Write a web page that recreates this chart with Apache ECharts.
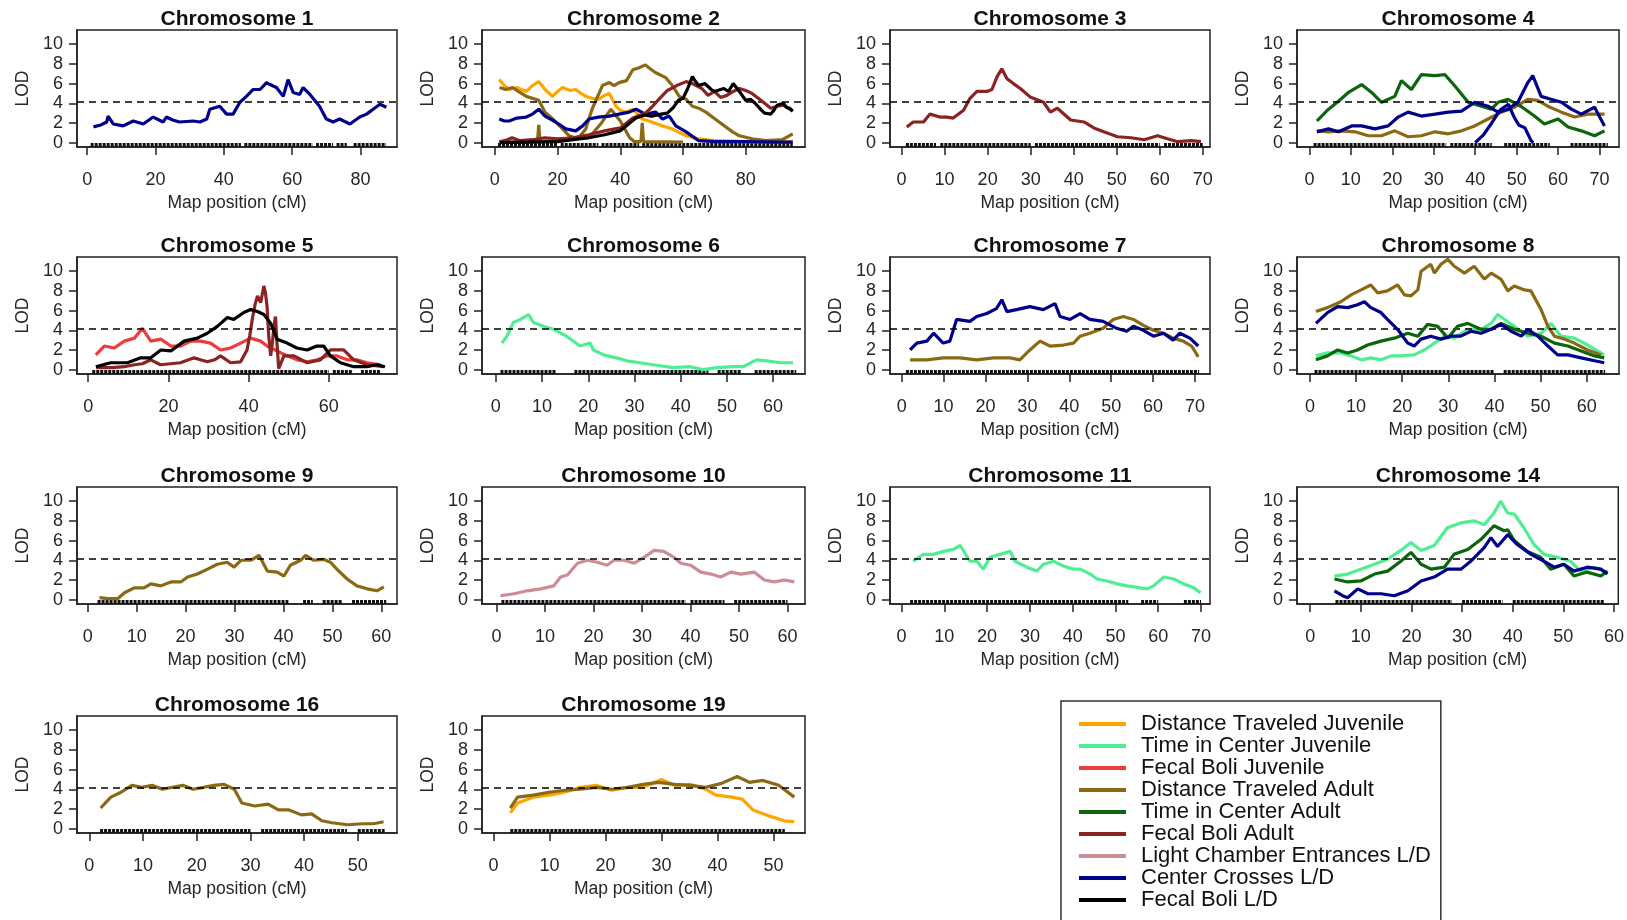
<!DOCTYPE html>
<html><head><meta charset="utf-8">
<script src="https://cdn.jsdelivr.net/npm/echarts@6/dist/echarts.min.js"></script>
<style>html,body{margin:0;padding:0;background:#fff}#c{width:1627px;height:920px}</style>
</head><body><div id="c"></div>
<script>
// ---------- categories / legend ----------
const TRAITS = ['Distance Traveled Juvenile','Time in Center Juvenile','Fecal Boli Juvenile','Distance Traveled Adult','Time in Center Adult','Fecal Boli Adult','Light Chamber Entrances L/D','Center Crosses L/D','Fecal Boli L/D'];
const TRAIT_COLORS = ['#FFA500','#4EEE94','#EE3B3B','#8B6914','#0B650B','#8B2323','#CD8C95','#00008B','#000000'];
const CHROMOSOMES = ['1','2','3','4','5','6','7','8','9','10','11','14','16','19'];
const X_TICKS = [[0,20,40,60,80],[0,20,40,60,80],[0,10,20,30,40,50,60,70],[0,10,20,30,40,50,60,70],[0,20,40,60],[0,10,20,30,40,50,60],[0,10,20,30,40,50,60,70],[0,10,20,30,40,50,60],[0,10,20,30,40,50,60],[0,10,20,30,40,50,60],[0,10,20,30,40,50,60,70],[0,10,20,30,40,50,60],[0,10,20,30,40,50],[0,10,20,30,40,50]];
const X_LIMITS = [[-3,90.7],[-4.1,98.9],[-2.7,71.7],[-3,74.7],[-2.8,77],[-3,66.9],[-2.8,73.6],[-2.8,67],[-2.2,63.2],[-3,63.6],[-2.7,72.1],[-2.6,60.85],[-2.3,57.3],[-2.05,55.6]];
const Y_TICKS = [0,2,4,6,8,10];
const Y_LIMITS = [-0.44, 11.44];
const THRESHOLD = 4.2;

// ---------- LOD curves [cM, LOD] ----------
const chr1_CC = [[1.8,1.6],[4,1.8],[5.7,2.1],[6.1,2.7],[7.6,1.9],[10.5,1.7],[13.5,2.2],[16.4,1.9],[19.3,2.6],[22.2,2.1],[23.2,2.6],[25,2.3],[27,2.1],[31,2.2],[33,2.1],[35,2.4],[35.9,3.4],[38.8,3.7],[40.8,2.9],[42.7,2.9],[44.7,4.1],[46.6,4.7],[48.6,5.4],[50.6,5.4],[52.5,6.1],[53.5,5.9],[55.4,5.6],[57.4,4.7],[58.8,6.4],[60.3,5.1],[62.2,4.9],[63.2,5.6],[65.2,4.9],[68,3.7],[70,2.4],[72,2.1],[73.9,2.4],[76.9,1.9],[79.8,2.6],[81.8,2.9],[83.7,3.4],[85.7,3.9],[87.6,3.6]];

const chr2_DTJ = [[1.4,6.4],[3,5.8],[4.6,5.4],[7,5.6],[10,5.2],[12,5.8],[14,6.2],[16,5.4],[18.4,4.7],[20,5.2],[21.6,5.6],[24,5.3],[25.8,5.4],[27.5,5],[29,4.7],[31,4.5],[33,4.4],[35,4.8],[36.5,5],[38.6,3.7],[40,3.3],[41.8,3.1],[44,3.4],[45.5,2.9],[47,2.4],[50,2.1],[53.5,1.7],[56.6,1.4],[59,1],[61,0.7],[65,0.4],[70,0.2],[80,0.1],[90,0.1],[95,0.1]];
const chr2_DTA = [[1.5,5.6],[3.5,5.4],[5.6,5.6],[8,5.1],[10,4.7],[14,4.3],[16,3.1],[18.5,2.4],[21.6,1.4],[23.7,0.7],[25.5,0.5],[27,0.6],[29,1.4],[31,3.4],[34.3,5.8],[36.5,6.1],[38,5.8],[39.6,6.1],[42,6.3],[44,7.4],[46,7.6],[48,7.9],[49.5,7.5],[51.3,7.1],[54.5,6.6],[56.6,5.8],[58.8,4.7],[61,4.4],[63,3.7],[65,3.5],[67.3,3.1],[71.5,2.1],[75.8,1.1],[78,0.7],[82,0.4],[86.4,0.2],[91.7,0.3],[95,0.9]];
const chr2_DTA_b = [[1.5,0.05],[13.6,0.1],[14,1.8],[14.4,0.1],[22,0.3],[30,0.5],[34,2],[37,3.4],[40,2.2],[43,0.5],[44.5,0.1],[46.6,0.1],[47,2],[47.4,0.1],[60,0.05]];
const chr2_FBA = [[1.5,0.1],[4,0.3],[5.5,0.5],[8,0.2],[12,0.3],[16,0.5],[20,0.4],[25,0.5],[30,0.8],[35,1.2],[40,1.5],[44,2.5],[48,3],[50,3.6],[52,4.3],[55,5.3],[58,5.8],[61,6.2],[63,6],[66,5.5],[68,4.8],[70,5.2],[72,4.6],[74,4.8],[76,5.2],[78,5.5],[80,5.3],[82,5],[84,4.5],[86,4],[88,3.5],[90,3.7],[92,3.8],[94,3.4],[95,3.2]];
const chr2_CC = [[1.4,2.4],[3,2.2],[4.6,2.2],[7,2.5],[10,2.6],[12,2.9],[14,3.4],[16,2.7],[19.4,2.1],[22.6,1.4],[25.8,1.2],[28,1.7],[30,2.4],[33,2.6],[36.5,2.7],[39.6,2.9],[42.8,3.1],[45,3.4],[48,2.9],[51.3,3.1],[53.5,2.4],[55.6,2.7],[57.7,1.7],[61,1.1],[65,0.2],[70,0.1],[80,0.1],[90,0.05],[95,0.05]];
const chr2_FBLD = [[1.5,0],[10,0.05],[20,0.1],[25,0.3],[30,0.5],[35,0.8],[40,1.2],[43,2],[45,2.5],[48,2.8],[50,2.7],[53,2.9],[55,3],[57,3.6],[58.5,4.3],[60,4.5],[61.5,5.5],[63,6.7],[64,6.2],[65,5.8],[67,6],[69,5.4],[70,5.2],[72,5.4],[73,5.5],[74.5,5.2],[76,6],[77,5.6],[78,5.2],[80,4.3],[81.5,4.4],[83,4],[85,3.3],[86,3],[88,2.9],[89,3.3],[90,3.8],[92,4],[93,3.6],[94,3.5],[95,3.2]];

const chr3_FBA = [[1.2,1.6],[2.7,2.1],[5.1,2.1],[6.6,2.9],[8.9,2.6],[10.5,2.6],[12,2.5],[14.4,3.3],[15.9,4.5],[17.5,5.2],[19.8,5.2],[21,5.4],[22.2,6.7],[23.3,7.5],[24.5,6.5],[26,6],[27.6,5.5],[30,4.6],[33,4.1],[34.6,3.1],[36.2,3.5],[39.3,2.3],[42.4,2.1],[44.7,1.5],[47,1.1],[50.2,0.6],[53.3,0.5],[56.4,0.3],[59.5,0.7],[61.8,0.4],[64.2,0.1],[67.3,0.2],[69.6,0.1]];

const chr4_TCA = [[1.8,2.2],[4.6,3.4],[7,4.2],[9.4,5.1],[12.6,5.9],[15,5.1],[17.4,4.1],[20.6,4.7],[22.2,6.3],[24.6,5.4],[27,6.9],[30.3,6.8],[32.7,6.9],[35,5.8],[38.3,4.1],[41.5,3.7],[43.9,3.4],[45.5,4.1],[47.9,4.4],[51,3.7],[54.3,2.7],[56.7,1.9],[60,2.4],[62.4,1.6],[65.6,1.2],[68.8,0.7],[71.2,1.2]];
const chr4_CC = [[1.8,1.1],[4.6,1.4],[7,1.1],[10.2,1.7],[12.6,1.7],[15.8,1.4],[19,1.7],[21.4,2.6],[23.8,3.1],[27,2.7],[30.3,2.9],[33.5,3.1],[36.7,3.2],[39.9,4.1],[43.1,3.7],[45.5,3.1],[47.9,3.4],[50.3,4.1],[52.7,6.1],[53.9,6.8],[55.9,4.7],[58.3,4.4],[60.8,4.1],[63.2,3.4],[65.6,2.9],[68.8,3.6],[71.2,1.7]];
const chr4_CC_b = [[40,0],[42,0.8],[44,2],[46,3.3],[48,3.9],[49.5,2.5],[50.5,1.8],[52,1.5],[53.5,0.2],[54,0]];
const chr4_DTA = [[1.8,1.2],[4.6,1.1],[7.8,1.2],[11,1.1],[14.2,0.7],[17.4,0.7],[20.6,1.2],[23.8,0.6],[27,0.7],[30.3,1.1],[33.5,0.9],[36.7,1.2],[39.9,1.7],[43.1,2.4],[46.3,3.1],[49.5,3.6],[52.7,4.4],[55.1,4.3],[57.5,3.7],[60.8,3.1],[64,2.6],[67.2,2.9],[71.2,2.9]];

const chr5_FBJ = [[1.9,1.5],[4,2.4],[6.5,2.2],[9,2.9],[11.5,3.2],[13.5,4.2],[15.6,2.9],[18.1,3.1],[20.6,2.4],[23,2.4],[25.6,2.9],[28,2.9],[30.5,2.7],[33,2],[35.5,2.2],[38,2.7],[40.5,3.2],[43,2.9],[44.6,2.4],[47.1,1.9],[49.6,1.4],[52.1,1],[54.6,0.8],[57.1,1],[59.6,1.4],[62,1.4],[64.6,1],[67,1],[69.5,0.7],[72.9,0.5]];
const chr5_FBA = [[2,0.2],[6,0.2],[9,0.3],[11.5,0.5],[13.5,0.6],[15.6,1],[18,0.5],[20.5,0.6],[23,0.7],[26.4,1.2],[28,1],[29.7,0.8],[31.5,1],[33,1.4],[35.5,0.7],[38,0.8],[39.6,2],[40.3,3.5],[40.9,5.1],[41.6,6.6],[42.2,7.5],[43,6.8],[43.8,8.5],[44.2,7.8],[44.6,6.4],[45,3.5],[45.5,1.4],[46,3],[46.3,4.4],[46.7,5.4],[47.1,2.5],[47.5,0.1],[48.8,1.4],[51.3,1.4],[54.6,0.7],[57.9,1],[60.4,2],[63.7,2],[66.2,1],[69.5,0.5],[73.7,0.3]];
const chr5_FBLD = [[1.9,0.3],[5.6,0.7],[9.8,0.7],[13.1,1.2],[15.6,1.2],[18.1,2],[20.6,1.9],[23.9,2.9],[27.2,3.2],[29.7,3.7],[32.2,4.4],[34.7,5.3],[36.3,5.1],[38.8,5.8],[40.5,6.1],[42.2,5.9],[43.8,5.6],[45.5,4.7],[47.1,3.1],[49.6,2.7],[52,2.2],[54.6,2],[57,2.4],[58.7,2.4],[60.4,1.4],[62.9,0.7],[66.2,0.3],[69.5,0.3],[72,0.5],[74,0.3]];

const chr6_TCJ = [[1.3,2.7],[2.4,3.4],[3.8,4.8],[5.3,5.1],[7.1,5.6],[8.1,4.8],[10.3,4.4],[12.5,4.1],[15.3,3.4],[18.2,2.4],[20.4,2.7],[21.1,2],[23.3,1.5],[26.1,1.2],[28.3,0.9],[31.2,0.7],[34,0.5],[38.4,0.2],[42,0.3],[44.9,0],[47.8,0.2],[51.4,0.3],[53.5,0.3],[56.4,1],[58.6,0.9],[61.5,0.7],[64.3,0.7]];

const chr7_CC = [[2,2],[3.6,2.7],[6,2.9],[7.6,3.7],[9.9,2.7],[11.5,2.9],[13.1,5.1],[16.3,4.9],[17.9,5.4],[20.3,5.7],[22.6,6.2],[23.9,7.1],[25.1,5.9],[27.4,6.1],[30.6,6.4],[33.8,6.1],[36.6,6.7],[37.8,5.4],[40.2,5.1],[42.6,5.7],[44.9,5.1],[48.1,4.9],[51.3,4.2],[53.7,3.9],[55.3,4.4],[57.7,4],[60.1,3.4],[62.5,3.7],[64.8,3],[66.4,3.7],[68.8,3.2],[70.8,2.4]];
const chr7_DTA = [[2,1],[6,1],[9.9,1.2],[13.9,1.2],[17.9,1],[21.9,1.2],[25.9,1.2],[28.2,1],[30.6,2],[33,2.9],[35.4,2.4],[38.6,2.5],[41,2.7],[42.6,3.4],[44.9,3.7],[48.1,4.2],[50.5,5.1],[52.9,5.4],[55.3,5.1],[57.7,4.5],[60.1,4],[62.5,3.7],[64.8,3.2],[67.2,2.9],[69.2,2.4],[70.8,1.3]];

const chr8_DTA = [[1.3,5.9],[3.8,6.3],[6.7,6.9],[8.9,7.6],[11.1,8.1],[13.2,8.6],[14.7,7.8],[16.8,8],[19,8.6],[20.5,7.6],[21.9,7.5],[23.4,8.1],[24.1,10],[26.2,10.7],[27,9.8],[28.4,10.7],[29.9,11.2],[31.3,10.5],[33.5,9.8],[35.6,10.5],[37.8,9.2],[39.3,9.8],[41.4,9.2],[42.9,8],[44.3,8.5],[46.5,8.1],[47.9,8],[50.1,6.1],[51.6,4.4],[53,3.4],[55.2,3.1],[57.3,2.7],[60.2,2],[63.1,1.5]];
const chr8_CC = [[1.3,4.7],[3.8,5.8],[6,6.4],[8.2,6.3],[10.3,6.6],[11.8,6.9],[13.2,6.3],[15.4,5.8],[16.8,5.1],[19,4.1],[21.2,2.7],[22.6,2.4],[24.1,3.1],[26.2,3.4],[28.4,3.1],[30.6,3.4],[32.7,3.4],[34.9,3.9],[37.1,3.7],[39.3,4.1],[41.4,4.6],[43.6,3.9],[45.8,3.4],[47.2,4.1],[49.4,3.4],[51.6,2.4],[53.7,1.5],[55.9,1.5],[58.8,1.2],[61.7,0.9],[63.8,0.7]];
const chr8_TCA = [[1.3,1],[3.8,1.4],[6,2],[8.2,1.7],[10.3,2],[12.5,2.5],[15.4,2.9],[18.3,3.2],[21.2,3.7],[23.4,3.4],[25.5,4.6],[27.7,4.4],[29.9,3.2],[32,4.4],[34.2,4.7],[37.1,4.1],[39.3,4.1],[41.4,4.7],[44.3,4.1],[47.2,3.7],[50.1,3.4],[53,2.7],[55.9,2.4],[58.8,1.9],[61.7,1.4],[63.8,1.2]];
const chr8_TCJ = [[1.3,1.4],[3.8,1.7],[6.7,1.7],[8.9,1.4],[11.1,1],[13.2,1.2],[15.4,1],[17.6,1.4],[19.7,1.4],[22.6,1.5],[24.8,2],[27,2.7],[29.2,3.4],[31.3,3.2],[34.2,4.1],[37.1,4.1],[39.3,4.7],[40.7,5.6],[42.2,5.1],[44.3,4.4],[47.2,3.4],[50.1,3.7],[52.3,4.7],[54.4,3.4],[57.3,3.2],[60.2,2.5],[63.8,1.5]];

const chr9_DTA = [[2.4,0.2],[4.1,0.1],[6.1,0.1],[7.5,0.7],[9.5,1.2],[11.5,1.2],[12.9,1.6],[14.9,1.4],[17,1.8],[19,1.8],[20.4,2.3],[22.4,2.6],[24.5,3.1],[26.5,3.6],[28.5,3.8],[29.9,3.3],[31.3,4],[33.3,4],[35,4.5],[36.7,2.9],[38.7,2.8],[40.1,2.4],[41.4,3.5],[43.5,4],[44.5,4.5],[46.2,4],[48.2,4.1],[49.6,3.8],[50.9,3.1],[53,2.1],[55,1.4],[57.1,1.1],[59.1,0.9],[60.5,1.3]];

const chr10_LCE = [[0.8,0.4],[3.6,0.6],[6.3,0.9],[9.1,1.1],[11.8,1.4],[13.2,2.3],[14.6,2.5],[16.7,3.7],[18.7,4],[20.8,3.8],[22.8,3.5],[24.2,4],[26.3,4],[28.4,3.7],[30.4,4.3],[32.5,5],[34.5,4.9],[36.6,4.3],[38,3.7],[40,3.5],[42.1,2.8],[44.2,2.6],[46.2,2.3],[48.3,2.8],[50.4,2.6],[53.1,2.8],[55.2,2],[57.3,1.8],[59.3,2],[61.4,1.8]];

const chr11_TCJ = [[2.7,3.9],[5.1,4.6],[7.4,4.6],[9.8,4.9],[12.1,5.1],[13.7,5.5],[16,3.9],[17.6,3.9],[19.1,3.1],[20.7,4.3],[23,4.6],[25.4,4.9],[26.5,3.9],[29.3,3.3],[31.6,2.9],[33.2,3.6],[35.5,3.9],[37.9,3.4],[40.2,3.1],[41.8,3.1],[44.1,2.6],[45.7,2.1],[48,1.9],[50.4,1.6],[52.7,1.4],[55.8,1.2],[57.4,1.1],[58.9,1.4],[61.3,2.3],[63.6,2.1],[66,1.6],[68.3,1.2],[69.9,0.7]];

const chr14_TCJ = [[4.8,2.4],[7.4,2.6],[10,3.1],[12.7,3.6],[15.3,4.1],[17.9,5],[19.9,5.8],[21.9,5],[24.5,5.5],[27.1,7.3],[29.8,7.8],[32.4,8],[34.4,7.6],[36.3,8.8],[37.6,10],[39,8.8],[40.3,8.7],[42.2,7.3],[44.2,5.6],[46.2,4.6],[48.8,4.3],[51.4,3.9],[53.4,2.9],[56,3.3],[58.7,2.8]];
const chr14_TCA = [[4.8,2.1],[7.4,1.8],[10,1.9],[12.7,2.6],[15.3,2.9],[17.9,3.9],[19.9,4.8],[21.9,3.6],[23.9,3.1],[26.5,3.3],[28.4,4.6],[31.1,5.1],[33.7,6.1],[36.3,7.5],[38.3,7],[39,7.1],[40.3,6],[42.9,4.9],[45.5,4.3],[47.5,3.1],[50.1,3.6],[52.1,2.4],[54.7,2.8],[57.4,2.4],[58.7,2.9]];
const chr14_CC = [[4.8,0.9],[6.4,0.4],[7.4,0.2],[9.4,1.1],[11.4,0.6],[14,0.6],[16.6,0.4],[19.3,0.9],[21.9,1.9],[24.5,2.3],[27.1,3.1],[29.8,3.1],[31.7,3.9],[34.4,5.3],[35.7,6.3],[37,5.4],[39,6.6],[40.9,5.6],[43.6,4.6],[45.5,4.1],[48.2,3.3],[50.1,3.6],[52.1,2.9],[54.7,3.3],[57.4,3.1],[58.7,2.6]];

const chr16_DTA = [[2.1,2.1],[4,3.2],[5.9,3.7],[7.9,4.4],[9.8,4.2],[11.7,4.4],[13.6,4],[15.5,4.2],[17.4,4.4],[19.3,4],[21.3,4.2],[23.2,4.4],[25.1,4.5],[27,4],[28.4,2.6],[30.8,2.3],[33.3,2.5],[35.2,1.9],[37.2,1.9],[39.5,1.4],[41.4,1.5],[43.3,0.8],[45.2,0.6],[48.1,0.4],[51,0.5],[52.9,0.5],[54.8,0.7]];

const chr19_DTA = [[3,2.1],[4.3,3.2],[7.1,3.4],[9.9,3.7],[12.7,3.9],[15.5,4],[18.3,4.2],[21.1,4],[23.9,4.2],[26.7,4.5],[29.5,4.7],[32.3,4.5],[35.1,4.4],[37.9,4.2],[40.7,4.6],[43.5,5.3],[45.7,4.7],[48.1,4.9],[50.9,4.4],[53.7,3.2]];
const chr19_DTJ = [[3,1.6],[4.3,2.6],[7.1,3.2],[9.9,3.4],[12.7,3.7],[15.5,4.2],[18.3,4.4],[21.1,3.9],[23.9,4.2],[26.7,4.2],[30,5],[32.3,4.4],[35.1,4.5],[37.9,4],[39.7,3.4],[42.5,3.2],[44.4,3],[46.3,1.9],[49.1,1.3],[51.9,0.8],[53.7,0.7]];

// ---------- marker (rug) spans [start cM, end cM] ----------
const MARKERS = [
  [[1,45],[46,66],[67,72],[73,76],[78,87.5]],
  [[1,20],[21,33],[34,46],[47,95]],
  [[1,8],[9,30],[31,60],[61,70]],
  [[1,33],[34,44],[47,58],[63,72]],
  [[1,60],[61,66],[68,73]],
  [[1,13],[17,46],[48,53],[56,65]],
  [[1,71]],
  [[1,40],[42,64]],
  [[2,41],[44,46],[48,52],[54,61]],
  [[1,39],[40,47],[49,60]],
  [[2,53],[56,60],[66,70]],
  [[5,28],[30,38],[40,58]],
  [[2,30],[32,48],[50,55]],
  [[3,52]]
];

// trait index per curve, per panel
const PANEL_CURVES = [
  [[7, chr1_CC]],
  [[0, chr2_DTJ],[3, chr2_DTA],[3, chr2_DTA_b],[7, chr2_CC],[5, chr2_FBA],[8, chr2_FBLD]],
  [[5, chr3_FBA]],
  [[3, chr4_DTA],[4, chr4_TCA],[7, chr4_CC],[7, chr4_CC_b]],
  [[2, chr5_FBJ],[5, chr5_FBA],[8, chr5_FBLD]],
  [[1, chr6_TCJ]],
  [[3, chr7_DTA],[7, chr7_CC]],
  [[1, chr8_TCJ],[3, chr8_DTA],[4, chr8_TCA],[7, chr8_CC]],
  [[3, chr9_DTA]],
  [[6, chr10_LCE]],
  [[1, chr11_TCJ]],
  [[1, chr14_TCJ],[4, chr14_TCA],[7, chr14_CC]],
  [[3, chr16_DTA]],
  [[0, chr19_DTJ],[3, chr19_DTA]]
];

// ---------- layout ----------
const COL_LEFT = [77, 482, 890, 1297];
const COL_W = [320, 323, 320, 322];
const ROW_TOP = [30, 257, 487, 716];
const ROW_H = 117;
const FONT = 'Liberation Sans, Arial, sans-serif';
const TXT = '#262626';

const grids = [], xAxes = [], yAxes = [], titles = [], series = [];
CHROMOSOMES.forEach((chr, i) => {
  const r = Math.floor(i / 4), c = i % 4;
  grids.push({left: COL_LEFT[c], top: ROW_TOP[r], width: COL_W[c], height: ROW_H,
    show: true, borderColor: '#222', borderWidth: 1.5, backgroundColor: 'transparent'});
  titles.push({text: 'Chromosome ' + chr, left: COL_LEFT[c] + COL_W[c] / 2, textAlign: 'center',
    top: ROW_TOP[r] - 21, padding: 0,
    textStyle: {fontFamily: FONT, fontSize: 21, fontWeight: 'bold', color: '#111'}});
  xAxes.push({type: 'value', gridIndex: i, min: X_LIMITS[i][0], max: X_LIMITS[i][1],
    axisLine: {show: true, onZero: false, lineStyle: {color: '#222', width: 1.5}},
    axisTick: {show: true, length: 8, customValues: X_TICKS[i], lineStyle: {color: '#222', width: 1.5}},
    axisLabel: {customValues: X_TICKS[i], margin: 24, fontSize: 18, color: TXT, fontFamily: FONT},
    splitLine: {show: false},
    name: 'Map position (cM)', nameLocation: 'middle', nameGap: 47,
    nameTextStyle: {fontSize: 17.5, color: TXT, fontFamily: FONT}});
  yAxes.push({type: 'value', gridIndex: i, min: Y_LIMITS[0], max: Y_LIMITS[1],
    axisLine: {show: true, onZero: false, lineStyle: {color: '#222', width: 1.5}},
    axisTick: {show: true, length: 8, customValues: Y_TICKS, lineStyle: {color: '#222', width: 1.5}},
    axisLabel: {customValues: Y_TICKS, margin: 14, fontSize: 18, color: TXT, fontFamily: FONT},
    splitLine: {show: false},
    name: 'LOD', nameLocation: 'middle', nameRotate: 90, nameGap: 45,
    nameTextStyle: {fontSize: 17.5, color: TXT, fontFamily: FONT}});
  // marker rug
  series.push({type: 'lines', coordinateSystem: 'cartesian2d', xAxisIndex: i, yAxisIndex: i,
    silent: true, z: 1, name: 'markers',
    lineStyle: {color: '#111', width: 4, type: [3, 1], opacity: 1},
    data: MARKERS[i].map(s => ({coords: [[s[0], -0.2], [s[1], -0.2]]}))});
  PANEL_CURVES[i].forEach((cv, k) => {
    const col = TRAIT_COLORS[cv[0]];
    const s = {type: 'line', name: TRAITS[cv[0]], xAxisIndex: i, yAxisIndex: i, data: cv[1],
      showSymbol: false, symbol: 'none', z: 3 + k,
      itemStyle: {color: col}, lineStyle: {color: col, width: 3.2}};
    if (k === 0) {
      s.markLine = {silent: true, symbol: 'none', label: {show: false}, animation: false,
        lineStyle: {color: '#000', type: [7, 5], width: 1.5}, emphasis: {disabled: true},
        data: [{yAxis: THRESHOLD}]};
    }
    series.push(s);
  });
});

const chart = echarts.init(document.getElementById('c'), null, {renderer: 'canvas'});
chart.setOption({
  animation: false,
  backgroundColor: '#fff',
  title: titles,
  grid: grids,
  xAxis: xAxes,
  yAxis: yAxes,
  legend: {
    orient: 'vertical', left: 1061, top: 701, height: 230, data: TRAITS, icon: 'rect',
    itemWidth: 47, itemHeight: 4, itemGap: 0, selectedMode: false,
    padding: [12, 10, 20, 18], borderColor: '#333', borderWidth: 1.5,
    textStyle: {fontSize: 22, lineHeight: 22, color: '#111', fontFamily: FONT, padding: [0, 0, 0, 10]}
  },
  series: series
});
</script></body></html>
